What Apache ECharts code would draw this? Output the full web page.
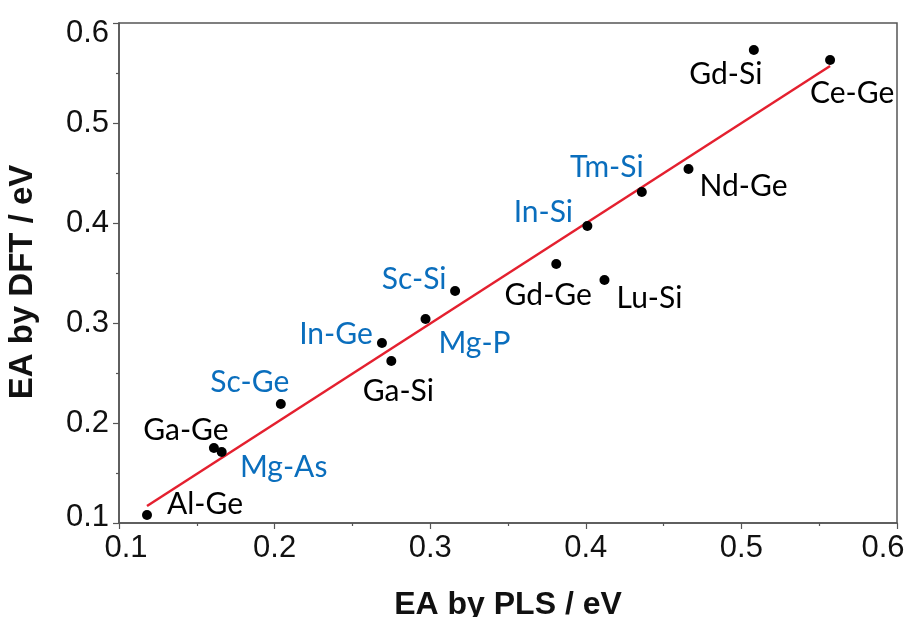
<!DOCTYPE html>
<html>
<head>
<meta charset="utf-8">
<title>EA by PLS vs EA by DFT</title>
<script src="https://cdn.jsdelivr.net/npm/echarts@6/dist/echarts.min.js"></script>
<style>
  html, body { margin: 0; padding: 0; background: #ffffff; }
  #chart { width: 909px; height: 617px; }
</style>
</head>
<body>
<div id="chart"></div>
<script>
// Compound names and their electron affinities (eV)
const names = ['Al-Ge', 'Ga-Ge', 'Mg-As', 'Sc-Ge', 'In-Ge', 'Ga-Si', 'Mg-P', 'Sc-Si',
               'Gd-Ge', 'Lu-Si', 'In-Si', 'Tm-Si', 'Nd-Ge', 'Gd-Si', 'Ce-Ge'];
const eaPLS = [0.118, 0.161, 0.166, 0.204, 0.269, 0.275, 0.297, 0.316,
               0.381, 0.412, 0.401, 0.436, 0.466, 0.508, 0.557];
const eaDFT = [0.108, 0.175, 0.171, 0.219, 0.280, 0.262, 0.304, 0.332,
               0.359, 0.343, 0.397, 0.431, 0.454, 0.573, 0.563];
// Blue-labelled compounds
const blueNames = ['Mg-As', 'Sc-Ge', 'In-Ge', 'Mg-P', 'Sc-Si', 'In-Si', 'Tm-Si'];
// Linear fit endpoints
const fitX = [0.118, 0.557];
const fitY = [0.117, 0.557];
// Axis ticks
const xTicks = [0.1, 0.2, 0.3, 0.4, 0.5, 0.6];
const yTicks = [0.1, 0.2, 0.3, 0.4, 0.5, 0.6];

// Label placement (pixel offset from the dot)
const labelOffset = {
  'Al-Ge': [58, -11], 'Ga-Ge': [-28, -18], 'Mg-As': [62, 15], 'Sc-Ge': [-31, -22],
  'In-Ge': [-46, -9], 'Ga-Si': [7, 30], 'Mg-P': [49, 24], 'Sc-Si': [-41, -12],
  'Gd-Ge': [-8, 31], 'Lu-Si': [45, 18], 'In-Si': [-44, -14], 'Tm-Si': [-35, -25],
  'Nd-Ge': [55, 17], 'Gd-Si': [-28, 24], 'Ce-Ge': [22, 33]
};

const BLUE = '#0a6ebd';
const BLACK = '#000000';
const LABEL_FONT = 'Lato, "Open Sans", sans-serif';
const AXIS_FONT = '"Liberation Sans", Arial, sans-serif';

const points = names.map((n, i) => ({
  name: n,
  value: [eaPLS[i], eaDFT[i]],
  label: {
    show: true,
    position: 'inside',
    align: 'center',
    verticalAlign: 'middle',
    offset: labelOffset[n],
    formatter: '{b}',
    color: blueNames.includes(n) ? BLUE : BLACK,
    opacity: 1,
    fontFamily: LABEL_FONT,
    fontSize: 30
  }
}));

const chart = echarts.init(document.getElementById('chart'), null, { renderer: 'canvas' });

const xMin = xTicks[0], xMax = xTicks[xTicks.length - 1];
const yMin = yTicks[0], yMax = yTicks[yTicks.length - 1];

chart.setOption({
  animation: false,
  backgroundColor: '#ffffff',
  grid: {
    left: 119, right: 12, top: 23, bottom: 94,
    outerBoundsMode: 'none',
    containLabel: false,
    show: true, borderColor: '#555555', borderWidth: 1.5, backgroundColor: 'transparent'
  },
  xAxis: {
    type: 'value',
    min: xMin, max: xMax, interval: 0.1,
    name: 'EA by PLS / eV',
    nameLocation: 'middle',
    nameGap: 66,
    nameTextStyle: { fontFamily: AXIS_FONT, fontWeight: 'bold', fontSize: 32, color: '#111' },
    axisLine: { show: true, lineStyle: { color: '#555555', width: 1.5 } },
    axisTick: { show: true, length: 6, lineStyle: { color: '#555555', width: 1.2 } },
    minorTick: { show: true, splitNumber: 2, length: 3, lineStyle: { color: '#555555', width: 1.2 } },
    splitLine: { show: false },
    axisLabel: {
      margin: 10,
      fontFamily: AXIS_FONT, fontSize: 31, color: '#111',
      formatter: v => {
        const s = v.toFixed(1);
        if (Math.abs(v - xMin) < 1e-9) return '{first|' + s + '}';
        if (Math.abs(v - xMax) < 1e-9) return '{last|' + s + '}';
        return s;
      },
      rich: {
        first: { fontFamily: AXIS_FONT, fontSize: 31, color: '#111', padding: [0, 0, 0, 14] },
        last: { fontFamily: AXIS_FONT, fontSize: 31, color: '#111', padding: [0, 28, 0, 0] }
      }
    }
  },
  yAxis: {
    type: 'value',
    min: yMin, max: yMax, interval: 0.1,
    name: 'EA by DFT / eV',
    nameLocation: 'middle',
    nameGap: 80,
    nameTextStyle: { fontFamily: AXIS_FONT, fontWeight: 'bold', fontSize: 33, color: '#111', padding: [0, 18, 0, 0] },
    axisLine: { show: true, lineStyle: { color: '#555555', width: 1.5 } },
    axisTick: { show: true, length: 6, lineStyle: { color: '#555555', width: 1.2 } },
    minorTick: { show: true, splitNumber: 2, length: 3, lineStyle: { color: '#555555', width: 1.2 } },
    splitLine: { show: false },
    axisLabel: {
      margin: 10,
      fontFamily: AXIS_FONT, fontSize: 31, color: '#111',
      formatter: v => {
        const s = v.toFixed(1);
        if (Math.abs(v - yMax) < 1e-9) return '{top|' + s + '}';
        if (Math.abs(v - yMin) < 1e-9) return '{bot|' + s + '}';
        return s;
      },
      rich: {
        top: { fontFamily: AXIS_FONT, fontSize: 31, color: '#111', padding: [20, 0, 0, 0] },
        bot: { fontFamily: AXIS_FONT, fontSize: 31, color: '#111', padding: [0, 0, 12, 0] }
      }
    }
  },
  series: [
    {
      type: 'line',
      data: fitX.map((x, i) => [x, fitY[i]]),
      symbol: 'none',
      lineStyle: { color: '#e4202f', width: 2.5 },
      z: 2,
      silent: true
    },
    {
      type: 'scatter',
      data: points,
      symbol: 'circle',
      symbolSize: 10,
      itemStyle: { color: '#000000', opacity: 1 },
      z: 3
    }
  ]
});
</script>
</body>
</html>
